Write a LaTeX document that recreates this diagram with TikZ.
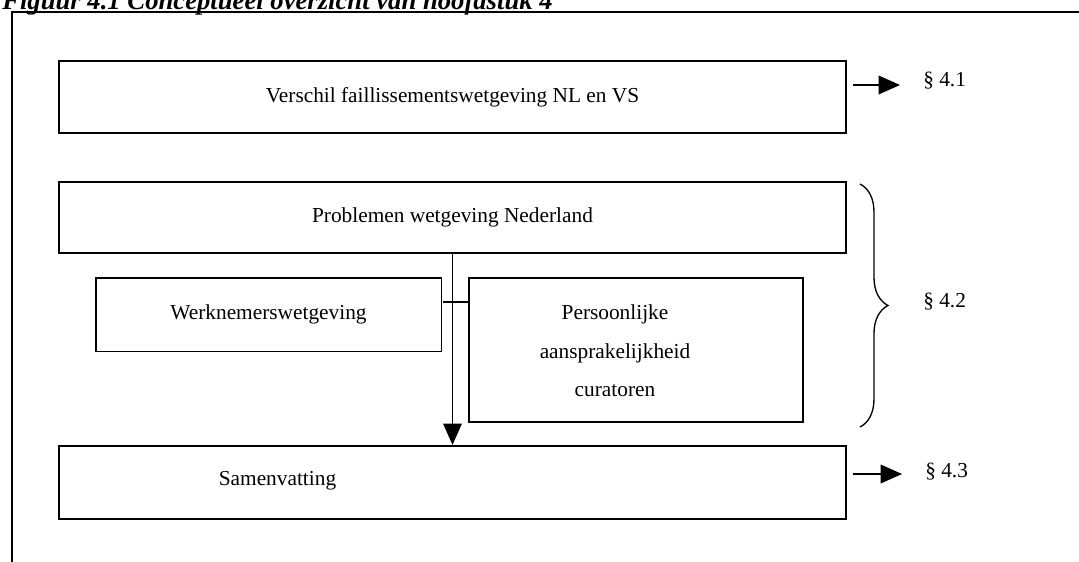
\documentclass[tikz,border=0pt]{standalone}
\usepackage{fontspec}
\setmainfont{Liberation Serif}
\usetikzlibrary{arrows.meta,decorations.pathreplacing}

\begin{document}
\begin{tikzpicture}[
	x=0.75pt, y=-0.75pt,
	blok/.style={draw, line width=1.4pt, inner sep=0pt, font=\tekst},
	subblok/.style={draw, line width=1pt, inner sep=0pt, font=\tekst},
	pijl/.style={-{Triangle[length=16pt,width=14pt]}, line width=1pt},
	par/.style={font=\tekst, anchor=west, inner sep=0pt}]
	\def\tekst{\fontsize{16}{29}\selectfont}
	\useasboundingbox (0,0) rectangle (1079,561);
	
	%% titel en kader (afgesneden)
	\node[anchor=base west, inner sep=0pt, font=\fontsize{20}{24}\selectfont\bfseries\itshape] (titel) at (2,9) {Figuur 4.1 Conceptueel overzicht van hoofdstuk 4};
	\draw[line width=1.7pt] (12,600) -- (12,12) -- (1100,12);
	
	%% blokken
	\node[blok, minimum width=590pt, minimum height=54pt] (verschil) at (452.5,97) {Verschil faillissementswetgeving NL en VS};
	\node[blok, minimum width=590pt, minimum height=53pt] (problemen) at (452.5,217.5) {Problemen wetgeving Nederland};
	\node[subblok, minimum width=259pt, minimum height=55pt] (werk) at (268.5,314.5) {Werknemerswetgeving};
	\node[subblok, minimum width=250.5pt, minimum height=108pt] (pers) at (636,350) {};
	\node[align=center, font=\tekst] (perstekst) at (615,351) {Persoonlijke\\aansprakelijkheid\\curatoren};
	\node[blok, minimum width=590pt, minimum height=55pt] (samen) at (452.5,482.5) {};
	\node[font=\tekst] (samentekst) at (277.5,481) {Samenvatting};
	
	%% verbindingen
	\draw[pijl] (problemen.south) -- (samen.north);
	\coordinate (aansl) at (443,302);
	\draw[line width=1pt] (aansl) -- (aansl -| pers.west);
	
	%% paragrafen
	\coordinate (p1) at (900,85);
	\coordinate (p3) at (902,474);
	\draw[pijl, shorten <=4.5pt] (verschil.east |- p1) -- (p1);
	\draw[pijl, shorten <=5pt] (samen.east |- p3) -- (p3);
	\draw[line width=1pt, decorate, decoration={brace, amplitude=21pt}] (860,184) -- (860,427);
	\node[par] (par41) at (923,81) {§ 4.1};
	\node[par] (par42) at (923,302) {§ 4.2};
	\node[par] (par43) at (925,472) {§ 4.3};
\end{tikzpicture}
\end{document}
